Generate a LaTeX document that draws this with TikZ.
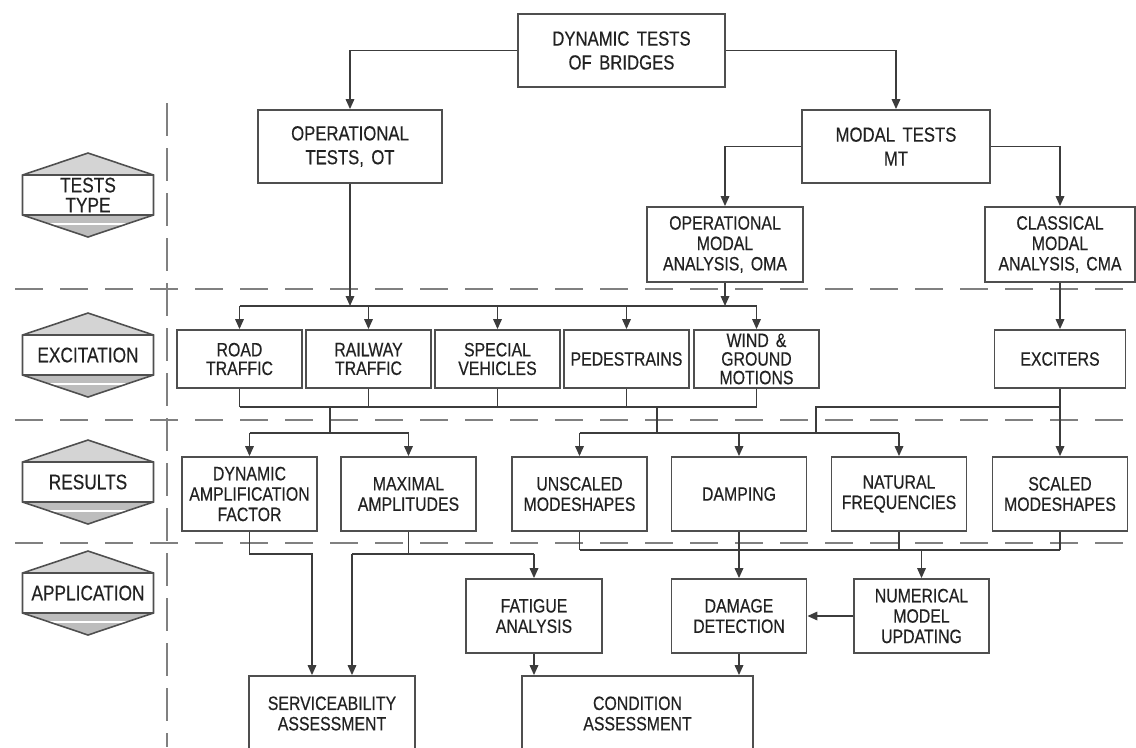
\documentclass[tikz,border=0pt]{standalone}
\usepackage{fontspec}
\setmainfont[FakeStretch=0.82,FakeBold=0.4,WordSpace=1.6]{Liberation Sans}
\usepackage{xcolor}
\usepackage{tikz}
\usetikzlibrary{arrows.meta, positioning}
\definecolor{bxline}{HTML}{4F4F4F}
\definecolor{bxtext}{HTML}{222222}
\definecolor{wiregray}{HTML}{3C3C3C}
\definecolor{sepgray}{HTML}{808080}
\definecolor{hexlight}{HTML}{D4D4D4}
\definecolor{hexdark}{HTML}{BDBDBD}

\begin{document}
\begin{tikzpicture}[
  flowbox/.style={draw=bxline, line width=1pt, fill=white, inner sep=0pt, minimum width=2.7cm, minimum height=1.48cm, align=center, text=bxtext, font=\fontsize{11}{11.6}\selectfont},
  topbox/.style={flowbox, minimum height=1.46cm, font=\fontsize{11.6}{13.6}\selectfont},
  exbox/.style={flowbox, minimum width=2.5cm, minimum height=1.16cm, font=\fontsize{11}{10.6}\selectfont},
  lvl/.style={align=center, text=bxtext, font=\fontsize{12}{11.4}\selectfont},
  wire/.style={wiregray, line width=0.95pt},
  arr/.style={wire, -{Triangle[length=2mm, width=1.7mm]}},
  sep/.style={sepgray, line width=0.9pt, dash pattern=on 0.56cm off 0.34cm}
]
  \useasboundingbox (0,0) rectangle (22.72,-14.94);
  \clip (0,0) rectangle (22.72,-14.94);

  % level separators
  \draw[sep] (0.3,-5.78) -- (22.72,-5.78);
  \draw[sep] (0.3,-8.40) -- (22.72,-8.40);
  \draw[sep] (0.3,-10.86) -- (22.72,-10.86);
  \draw[sep, dash pattern=on 0.66cm off 0.24cm] (3.34,-2.06) -- (3.34,-14.94);

  % level labels
  \foreach \y/\t [count=\i] in {-3.90/{TESTS\\TYPE}, -7.10/EXCITATION, -9.64/RESULTS, -11.86/APPLICATION} {
    \fill[hexlight] (0.45,\y+0.4) -- (1.76,\y+0.84) -- (3.07,\y+0.4) -- cycle;
    \fill[hexdark] (0.45,\y-0.4) -- (1.76,\y-0.84) -- (3.07,\y-0.4) -- cycle;
    \draw[white, line width=0.8pt] (0.75,\y-0.58) -- (2.77,\y-0.58);
    \draw[bxline, line width=0.6pt] (0.45,\y+0.4) -- (3.07,\y+0.4) (0.45,\y-0.4) -- (3.07,\y-0.4);
    \draw[bxline, line width=0.9pt] (0.45,\y+0.4) -- (1.76,\y+0.84) -- (3.07,\y+0.4) -- (3.07,\y-0.4) -- (1.76,\y-0.84) -- (0.45,\y-0.4) -- cycle;
    \node[lvl] (lvl\i) at (1.76,\y) {\t};
  }

  % tests type
  \node[topbox, minimum width=4.14cm] (dyn) at (12.43,-1.01) {DYNAMIC TESTS\\OF BRIDGES};
  \node[topbox, minimum width=3.68cm] (ot) at (7.00,-2.93) {OPERATIONAL\\TESTS, OT};
  \node[topbox, minimum width=3.76cm] (mt) at (17.92,-2.93) {MODAL TESTS\\MT};
  \node[flowbox, minimum width=3.12cm, minimum height=1.5cm] (oma) at (14.50,-4.89) {OPERATIONAL\\MODAL\\ANALYSIS, OMA};
  \node[flowbox, minimum width=3.0cm, minimum height=1.5cm] (cma) at (21.20,-4.89) {CLASSICAL\\MODAL\\ANALYSIS, CMA};

  % excitation
  \node[exbox] (road) at (4.79,-7.18) {ROAD\\TRAFFIC};
  \node[exbox] (rail) at (7.37,-7.18) {RAILWAY\\TRAFFIC};
  \node[exbox] (spec) at (9.95,-7.18) {SPECIAL\\VEHICLES};
  \node[exbox] (ped) at (12.53,-7.18) {PEDESTRAINS};
  \node[exbox] (wind) at (15.13,-7.18) {WIND \&\\GROUND\\MOTIONS};
  \node[exbox, minimum width=2.62cm] (exc) at (21.20,-7.18) {EXCITERS};

  % results
  \node[flowbox] (daf) at (4.99,-9.88) {DYNAMIC\\AMPLIFICATION\\FACTOR};
  \node[flowbox] (maxamp) at (8.17,-9.88) {MAXIMAL\\AMPLITUDES};
  \node[flowbox] (unsc) at (11.59,-9.88) {UNSCALED\\MODESHAPES};
  \node[flowbox] (damp) at (14.78,-9.88) {DAMPING};
  \node[flowbox] (natf) at (17.98,-9.88) {NATURAL\\FREQUENCIES};
  \node[flowbox] (scal) at (21.20,-9.88) {SCALED\\MODESHAPES};

  % application
  \node[flowbox, minimum width=2.72cm] (fat) at (10.68,-12.32) {FATIGUE\\ANALYSIS};
  \node[flowbox] (dd) at (14.78,-12.32) {DAMAGE\\DETECTION};
  \node[flowbox] (nmu) at (18.43,-12.32) {NUMERICAL\\MODEL\\UPDATING};
  \node[flowbox, minimum width=3.32cm, minimum height=1.5cm] (serv) at (6.64,-14.27) {SERVICEABILITY\\ASSESSMENT};
  \node[flowbox, minimum width=4.62cm, minimum height=1.5cm] (cond) at (12.75,-14.27) {CONDITION\\ASSESSMENT};

  % bus levels
  \coordinate (tb) at (0,-6.12);
  \coordinate (bb) at (0,-8.14);
  \coordinate (rb) at (0,-8.66);
  \coordinate (d1) at (6.60,-8.14);
  \coordinate (d2) at (13.14,-8.14);
  \coordinate (xj) at (16.32,-8.14);
  \coordinate (ab) at (0,-11.08);
  \coordinate (mb) at (0,-11.00);

  \draw[arr] (dyn.west) -| (ot.north);
  \draw[arr] (dyn.east) -| (mt.north);
  \draw[arr] (mt.west) -| (oma.north);
  \draw[arr] (mt.east) -| (cma.north);

  \draw[wire] (road.north |- tb) -- (wind.north |- tb);
  \draw[arr] (ot.south) -- (ot.south |- tb);
  \draw[arr] (oma.south) -- (oma.south |- tb);
  \foreach \m in {road,rail,spec,ped,wind}
    \draw[arr] (\m.north |- tb) -- (\m.north);
  \draw[arr] (cma) -- (exc);

  \foreach \m in {road,rail,spec,ped,wind}
    \draw[wire] (\m.south) -- (\m.south |- bb);
  \draw[wire] (road.south |- bb) -- (wind.south |- bb);
  \draw[wire] (d1) -- (d1 |- rb);
  \draw[wire] (d2) -- (d2 |- rb);
  \draw[wire] (exc.south |- xj) -- (xj) -- (xj |- rb);
  \draw[arr] (exc) -- (scal);

  \draw[wire] (daf.north |- rb) -- (maxamp.north |- rb);
  \draw[wire] (unsc.north |- rb) -- (natf.north |- rb);
  \foreach \m in {daf,maxamp,unsc,damp,natf}
    \draw[arr] (\m.north |- rb) -- (\m.north);

  \draw[arr] (daf.south) |- ([xshift=-0.4cm]serv.north |- ab) -- ([xshift=-0.4cm]serv.north);
  \draw[wire] (maxamp.south) -- (maxamp.south |- ab);
  \draw[wire] ([xshift=0.4cm]serv.north |- ab) -- (fat.north |- ab);
  \draw[arr] ([xshift=0.4cm]serv.north |- ab) -- ([xshift=0.4cm]serv.north);
  \draw[arr] (fat.north |- ab) -- (fat.north);

  \foreach \m in {unsc,natf,scal}
    \draw[wire] (\m.south) -- (\m.south |- mb);
  \draw[wire] (unsc.south |- mb) -- (scal.south |- mb);
  \draw[arr] (damp) -- (dd);
  \draw[arr] (nmu.north |- mb) -- (nmu.north);
  \draw[arr] (nmu) -- (dd);
  \draw[arr] (dd.south) -- (dd.south |- cond.north);
  \draw[arr] (fat.south) -- (fat.south |- cond.north);
\end{tikzpicture}
\end{document}
